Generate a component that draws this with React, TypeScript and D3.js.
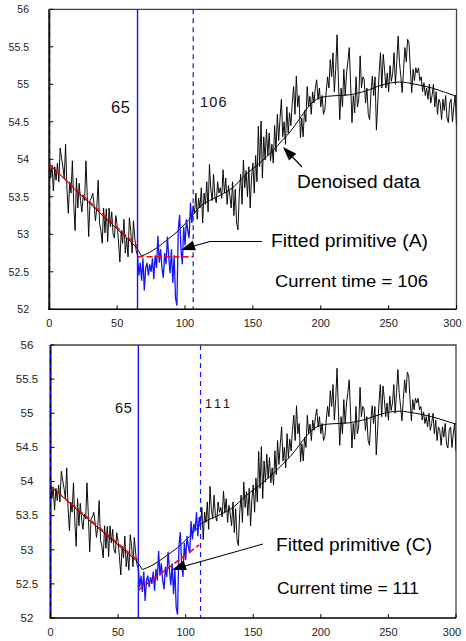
import React from "react";
import * as d3 from "d3";

// ---------- DATA ----------
// raw measurements, one per time step 0..300
const RAW: number[] = [
  54.05, 53.75, 53.92, 53.58, 53.9, 53.72, 53.95, 53.7, 54.15, 54.02,
  53.9, 53.75, 54.2, 53.6, 53.28, 53.7, 53.55, 53.98, 53.4, 53.05,
  53.75, 53.35, 53.68, 53.45, 53.3, 53.52, 53.45, 53.98, 53.5, 52.97,
  53.45, 53.48, 53.55, 53.4, 53.18, 53.35, 53.72, 53.15, 53.05, 52.88,
  53.35, 53.02, 53.34, 52.9, 53.35, 53.1, 53.3, 53.0, 52.95, 53.25,
  53.12, 52.9, 52.63, 53.05, 52.88, 53.2, 52.75, 52.95, 52.7, 53.22,
  53.05, 52.75, 53.18, 52.95, 52.78, 52.72, 52.45, 52.62, 52.38, 52.68,
  52.25, 52.55, 52.62, 52.45, 52.6, 52.5, 52.68, 52.4, 52.72, 52.55,
  52.98, 52.62, 52.8, 52.55, 52.42, 52.75, 52.6, 52.97, 52.7, 52.48,
  52.8, 52.35, 52.72, 52.15, 52.05, 53.05, 53.26, 52.8, 52.6, 53.1,
  52.85, 53.2, 53.05, 52.95, 53.42, 53.15, 53.38, 53.28, 53.55, 53.2,
  53.48, 53.35, 53.62, 53.15, 53.55, 53.4, 53.7, 53.3, 53.93, 53.6,
  53.45, 53.8, 53.5, 53.42, 53.7, 53.55, 53.62, 53.48, 53.86, 53.55,
  53.75, 53.4, 53.65, 53.52, 53.35, 53.7, 53.25, 53.6, 53.15, 53.06,
  53.55, 53.8, 53.4, 53.99, 53.62, 53.85, 53.5, 53.9, 53.35, 53.75,
  53.95, 53.55, 54.05, 53.7, 54.44, 53.9, 54.51, 53.75, 54.3, 53.99,
  54.4, 54.05, 54.35, 53.98, 54.2, 53.95, 54.45, 54.1, 54.6, 54.25,
  54.55, 54.8, 54.3, 54.5, 54.2, 54.7, 54.35, 54.62, 54.45, 54.75,
  54.97, 54.6, 55.11, 54.7, 54.85, 54.29, 54.55, 54.3, 54.65, 54.5,
  54.97, 54.7, 54.84, 54.6, 54.9, 54.75, 54.95, 55.06, 54.8, 54.95,
  54.7, 54.85, 54.6, 54.66, 54.9, 55.1, 54.95, 55.33, 55.1, 55.42,
  54.9, 55.2, 55.66, 55.05, 54.53, 54.95, 54.7, 55.2, 54.85, 55.15,
  55.3, 55.49, 55.0, 54.49, 54.85, 54.62, 55.1, 54.7, 54.8, 55.38,
  54.95, 55.1, 55.06, 54.75, 54.95, 54.6, 54.53, 54.9, 55.11, 54.85,
  55.1, 54.39, 54.75, 55.15, 55.42, 54.95, 55.4, 55.2, 54.95, 55.15,
  54.9, 55.25, 55.04, 55.15, 55.42, 55.0, 55.3, 55.64, 55.29, 55.1,
  54.89, 55.2, 55.49, 55.3, 55.6, 55.55, 55.2, 54.89, 55.2, 55.05,
  55.22, 55.15, 55.22, 55.05, 55.1, 54.9, 55.02, 54.85, 54.95, 54.8,
  55.0, 54.75, 54.85, 55.0, 54.7, 54.9, 54.6, 54.8, 54.75, 54.53,
  54.8, 54.65, 54.85, 54.55, 54.49, 54.75, 54.8, 54.5, 54.7, 54.85,
  54.45,
];

// denoised (smooth) curve
const SMOOTH_X = [0, 10, 20, 30, 40, 50, 60, 64, 68, 74, 80, 87, 94, 100, 106, 111, 118, 126, 135, 145, 155, 165, 172, 178, 184, 190, 197, 205, 213, 221, 233, 245, 258, 270, 282, 292, 300];
const SMOOTH_Y = [53.93, 53.76, 53.58, 53.41, 53.24, 53.07, 52.9, 52.83, 52.71, 52.76, 52.83, 52.93, 53.03, 53.14, 53.26, 53.37, 53.45, 53.52, 53.62, 53.8, 53.95, 54.12, 54.26, 54.38, 54.53, 54.68, 54.8, 54.84, 54.85, 54.86, 54.91, 54.99, 55.03, 55.0, 54.95, 54.89, 54.84];
const KINK_X = 68;

// fitted primitives
const TREND_X = [0, 65];
const TREND_Y = [53.93, 52.84];
const FIT_A_X = [65, 106];
const FIT_A_Y = [52.7, 52.7];
const FIT_C_X = [65, 110];
const FIT_C_Y = [52.41, 53.07];

const SEG_START = 65;
const CURRENT_TIMES = [106, 111];

const X_TICKS = [0, 50, 100, 150, 200, 250, 300];
const Y_TICKS = [52, 52.5, 53, 53.5, 54, 54.5, 55, 55.5, 56];

const FONT = "'Liberation Sans', Arial, sans-serif";
const BLUE = "#1414ff";

type Pt = [number, number];
const zip = (xs: number[], ys: number[]): Pt[] => xs.map((x, i) => [x, ys[i]]);

interface PanelCfg {
  left: number; right: number; top: number; bottom: number;
  current: number;
  fitX: number[]; fitY: number[];
  fitLabel: string; timeLabel: string;
  yLabelAnchor: "end" | "middle"; yLabelX: number; yLabelSize: number;
  xLabelY: number;
  label65: { x: number; y: number; size: number; ls: number };
  labelCur: { x: number; y: number; size: number; ls: number };
  leftDashColor: string;
  curColor: string;
  fitText: { x: number; y: number; w: number };
  timeText: { x: number; y: number; w: number };
  leader: Pt[];
  leaderHead: { tip: Pt; from: Pt };
  denoised?: { x: number; y: number; w: number; tail: Pt; tip: Pt };
}

const PANELS: PanelCfg[] = [
  {
    left: 49.3, right: 456.5, top: 9.3, bottom: 309.3,
    current: CURRENT_TIMES[0],
    fitX: FIT_A_X, fitY: FIT_A_Y,
    fitLabel: "Fitted primitive (A)", timeLabel: "Current time = 106",
    yLabelAnchor: "end", yLabelX: 29, yLabelSize: 10.5,
    xLabelY: 327,
    label65: { x: 111, y: 113, size: 16.5, ls: 0.5 },
    labelCur: { x: 200, y: 107, size: 14.5, ls: 1.2 },
    leftDashColor: "#333",
    curColor: "#1a1ad0",
    fitText: { x: 271, y: 247, w: 157 },
    timeText: { x: 275, y: 287, w: 153 },
    leader: [[262, 241.5], [210, 241.5], [190, 247]],
    leaderHead: { tip: [181, 250], from: [196, 245] },
    denoised: { x: 297, y: 188, w: 123, tail: [302, 167], tip: [283, 147] },
  },
  {
    left: 50.5, right: 456, top: 345, bottom: 618,
    current: CURRENT_TIMES[1],
    fitX: FIT_C_X, fitY: FIT_C_Y,
    fitLabel: "Fitted primitive (C)", timeLabel: "Current time = 111",
    yLabelAnchor: "middle", yLabelX: 27, yLabelSize: 11.5,
    xLabelY: 636,
    label65: { x: 115, y: 413, size: 14.5, ls: 0.8 },
    labelCur: { x: 205, y: 408, size: 12.5, ls: 3 },
    leftDashColor: BLUE,
    curColor: BLUE,
    fitText: { x: 276, y: 551, w: 156 },
    timeText: { x: 277, y: 594, w: 142 },
    leader: [[263, 544], [185, 566]],
    leaderHead: { tip: [172, 570], from: [186, 565] },
  },
];

function arrowHead(tip: Pt, from: Pt, len = 13, half = 5): string {
  const dx = tip[0] - from[0], dy = tip[1] - from[1];
  const L = Math.hypot(dx, dy) || 1;
  const ux = dx / L, uy = dy / L;
  const bx = tip[0] - ux * len, by = tip[1] - uy * len;
  const px = -uy * half, py = ux * half;
  return `M${tip[0]},${tip[1]}L${bx + px},${by + py}L${bx - px},${by - py}Z`;
}

function Panel({ cfg }: { cfg: PanelCfg }) {
  const x = d3.scaleLinear().domain([0, 300]).range([cfg.left, cfg.right]);
  const y = d3.scaleLinear().domain([52, 56]).range([cfg.bottom, cfg.top]);
  const raw: Pt[] = RAW.map((v, i) => [i, v]);
  const line = d3.line<Pt>().x((d) => x(d[0])).y((d) => y(d[1]));
  const smoothLine = d3.line<Pt>().x((d) => x(d[0])).y((d) => y(d[1])).curve(d3.curveMonotoneX);

  const before = raw.filter((d) => d[0] <= SEG_START);
  const window = raw.filter((d) => d[0] >= SEG_START && d[0] <= cfg.current);
  const after = raw.filter((d) => d[0] >= cfg.current);
  const smooth = zip(SMOOTH_X, SMOOTH_Y);
  const smoothA = smooth.filter((d) => d[0] <= KINK_X);
  const smoothB = smooth.filter((d) => d[0] >= KINK_X);

  const clipId = `clip-${cfg.current}`;
  return (
    <g>
      <defs>
        <clipPath id={clipId}>
          <rect x={cfg.left} y={cfg.top} width={cfg.right - cfg.left} height={cfg.bottom - cfg.top} />
        </clipPath>
      </defs>
      {/* frame */}
      <path d={`M${cfg.left},${cfg.top}H${cfg.right}V${cfg.bottom}`} fill="none" stroke="#444" strokeWidth={1.3} />
      <g clipPath={`url(#${clipId})`}>
        <path d={line(before) || ""} fill="none" stroke="#000" strokeWidth={0.95} />
        <path d={line(after) || ""} fill="none" stroke="#000" strokeWidth={0.95} />
        <path d={line(smoothA) || ""} fill="none" stroke="#000" strokeWidth={1} />
        <path d={smoothLine(smoothB) || ""} fill="none" stroke="#000" strokeWidth={1} />
        <path d={line(window) || ""} fill="none" stroke={BLUE} strokeWidth={1.3} />
        <path d={line(zip(TREND_X, TREND_Y)) || ""} fill="none" stroke="#ff0000" strokeWidth={1.6} strokeDasharray="6,3" />
        <path d={line(zip(cfg.fitX, cfg.fitY)) || ""} fill="none" stroke="#ff0000" strokeWidth={1.6} strokeDasharray="6,3" />
      </g>
      {/* vertical markers */}
      <line x1={x(SEG_START)} x2={x(SEG_START)} y1={cfg.top} y2={cfg.bottom} stroke={BLUE} strokeWidth={1.4} />
      <line x1={x(cfg.current)} x2={x(cfg.current)} y1={cfg.top} y2={cfg.bottom} stroke={cfg.curColor} strokeWidth={1.2} strokeDasharray="5,4" />
      {/* axes */}
      <line x1={cfg.left} x2={cfg.left} y1={cfg.top} y2={cfg.bottom} stroke="#000" strokeWidth={2} />
      <line x1={cfg.left} x2={cfg.left} y1={cfg.top} y2={cfg.bottom} stroke={cfg.leftDashColor} strokeWidth={1.2} strokeDasharray="5,4" />
      <line x1={cfg.left - 1} x2={cfg.right} y1={cfg.bottom} y2={cfg.bottom} stroke="#000" strokeWidth={1.6} />
      {Y_TICKS.map((t) => (
        <g key={"y" + t}>
          <line x1={cfg.left} x2={cfg.left + 4} y1={y(t)} y2={y(t)} stroke="#000" strokeWidth={1} />
          <text x={cfg.yLabelX} y={y(t) + 3.8} textAnchor={cfg.yLabelAnchor} fontFamily={FONT} fontSize={cfg.yLabelSize} fill="#222">
            {String(t)}
          </text>
        </g>
      ))}
      {X_TICKS.map((t) => (
        <g key={"x" + t}>
          <line x1={x(t)} x2={x(t)} y1={cfg.bottom} y2={cfg.bottom - 4} stroke="#000" strokeWidth={1} />
          <text x={x(t) - (t === 300 ? 4 : 0)} y={cfg.xLabelY} textAnchor="middle" fontFamily={FONT} fontSize={11} fill="#222">
            {String(t)}
          </text>
        </g>
      ))}
      {/* marker labels */}
      <text x={cfg.label65.x} y={cfg.label65.y} fontFamily={FONT} fontSize={cfg.label65.size} letterSpacing={cfg.label65.ls} fill="#111">
        {String(SEG_START)}
      </text>
      <text x={cfg.labelCur.x} y={cfg.labelCur.y} fontFamily={FONT} fontSize={cfg.labelCur.size} letterSpacing={cfg.labelCur.ls} fill="#111">
        {String(cfg.current)}
      </text>
      {/* annotations */}
      {cfg.denoised && (
        <g>
          <text x={cfg.denoised.x} y={cfg.denoised.y} fontFamily={FONT} fontSize={17.5} textLength={cfg.denoised.w} lengthAdjust="spacingAndGlyphs" fill="#000">
            Denoised data
          </text>
          <line x1={cfg.denoised.tail[0]} y1={cfg.denoised.tail[1]} x2={(cfg.denoised.tip[0] + cfg.denoised.tail[0]) / 2} y2={(cfg.denoised.tip[1] + cfg.denoised.tail[1]) / 2} stroke="#000" strokeWidth={1.1} />
          <path d={arrowHead(cfg.denoised.tip, cfg.denoised.tail, 14, 5)} fill="#000" />
        </g>
      )}
      <polyline points={cfg.leader.map((p) => p.join(",")).join(" ")} fill="none" stroke="#000" strokeWidth={1.1} />
      <path d={arrowHead(cfg.leaderHead.tip, cfg.leaderHead.from, 14, 5)} fill="#000" />
      <text x={cfg.fitText.x} y={cfg.fitText.y} fontFamily={FONT} fontSize={17.5} textLength={cfg.fitText.w} lengthAdjust="spacingAndGlyphs" fill="#000">
        {cfg.fitLabel}
      </text>
      <text x={cfg.timeText.x} y={cfg.timeText.y} fontFamily={FONT} fontSize={17} textLength={cfg.timeText.w} lengthAdjust="spacingAndGlyphs" fill="#000">
        {cfg.timeLabel}
      </text>
    </g>
  );
}

export default function App() {
  return (
    <svg width={466} height={641} style={{ position: "absolute", left: 0, top: 0, background: "#fff" }}>
      <rect width={466} height={641} fill="#fff" />
      {PANELS.map((p, i) => (
        <Panel key={i} cfg={p} />
      ))}
    </svg>
  );
}
